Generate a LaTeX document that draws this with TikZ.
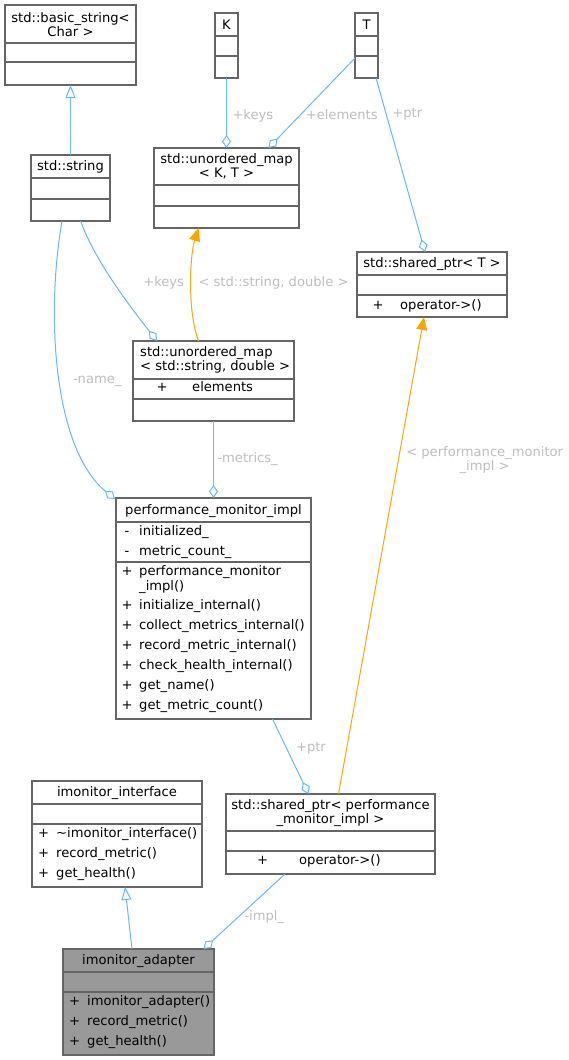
\documentclass[tikz,border=0pt]{standalone}
\usepackage{fontspec}
\setmainfont{DejaVu Sans}
\usepackage{tikz}
\usetikzlibrary{arrows.meta,calc,positioning}
\definecolor{boxgray}{RGB}{102,102,102}
\definecolor{mainfill}{RGB}{153,153,153}
\definecolor{edgeblue}{RGB}{99,184,255}
\definecolor{edgeorange}{RGB}{255,165,0}
\definecolor{labelgray}{RGB}{190,190,190}
\newcommand{\dgfont}{\fontsize{13.1}{14}\selectfont}
\tikzstyle{classbox}=[draw=boxgray, fill=white, line width=1.2pt, anchor=north west, inner sep=0pt, outer sep=0pt]
\tikzstyle{mainbox}=[classbox, fill=mainfill]
\tikzstyle{rowline}=[draw=boxgray, line width=1.2pt]
\tikzstyle{ctitle}=[font=\dgfont, inner sep=0pt, align=center]
\tikzstyle{member}=[font=\dgfont, inner sep=0pt, anchor=west, text height=11pt, text depth=2pt]
\tikzstyle{vis}=[member, anchor=center]
\tikzstyle{elabel}=[font=\dgfont, text=labelgray, inner sep=0pt, anchor=west, align=center]
\tikzstyle{aggr}=[draw=edgeblue, line width=1pt, -{Diamond[open, length=13pt, width=9pt]}]
\tikzstyle{inherit}=[draw=edgeblue, line width=1pt, -{Triangle[open, length=13pt, width=10pt]}]
\tikzstyle{tmpl}=[draw=edgeorange, line width=1pt, -{Triangle[length=13pt, width=11pt]}]
\newcommand{\rowsep}[2]{\draw[rowline] ([yshift=-#2pt]#1.north west) -- ([yshift=-#2pt]#1.north east);}

\begin{document}
\begin{tikzpicture}[x=1pt,y=-1pt]
\useasboundingbox (0,0) rectangle (568,1060);

    % class boxes
    \node[classbox, minimum width=131, minimum height=80] (basic-string) at (5,5) {};
    \node[classbox, minimum width=23, minimum height=65] (tpl-K) at (215,13) {};
    \node[classbox, minimum width=23, minimum height=65] (tpl-T) at (355,13) {};
    \node[classbox, minimum width=145, minimum height=80] (map-KT) at (154,148) {};
    \node[classbox, minimum width=79, minimum height=66] (std-string) at (31,155) {};
    \node[classbox, minimum width=150, minimum height=65] (sptr-T) at (357,252) {};
    \node[classbox, minimum width=161, minimum height=80] (map-SD) at (133,341) {};
    \node[classbox, minimum width=195, minimum height=221] (perf-impl) at (116,498) {};
    \node[classbox, minimum width=170, minimum height=106] (mon-iface) at (32,781) {};
    \node[classbox, minimum width=209, minimum height=80] (sptr-perf) at (226,794) {};
    \node[mainbox, minimum width=151, minimum height=106] (mon-adapter) at (63,949) {};

    \rowsep{basic-string}{38} \rowsep{basic-string}{57}
    \rowsep{tpl-K}{23} \rowsep{tpl-K}{43}
    \rowsep{tpl-T}{23} \rowsep{tpl-T}{43}
    \rowsep{map-KT}{37} \rowsep{map-KT}{58}
    \rowsep{std-string}{23} \rowsep{std-string}{44}
    \rowsep{sptr-T}{23} \rowsep{sptr-T}{43}
    \rowsep{map-SD}{38} \rowsep{map-SD}{58}
    \rowsep{perf-impl}{24} \rowsep{perf-impl}{64}
    \rowsep{mon-iface}{23} \rowsep{mon-iface}{43}
    \rowsep{sptr-perf}{37} \rowsep{sptr-perf}{57}
    \rowsep{mon-adapter}{23} \rowsep{mon-adapter}{43}

    % titles
    \node[ctitle] (basic-string-title) at (70.5,24.5) {std::basic\_string<\\Char >};
    \node[ctitle] (tpl-K-title) at (226.5,25) {K};
    \node[ctitle] (tpl-T-title) at (366.5,25) {T};
    \node[ctitle] (map-KT-title) at (226.5,166.5) {std::unordered\_map\\< K, T >};
    \node[ctitle] (std-string-title) at (70.5,167) {std::string};
    \node[ctitle] (sptr-T-title) at (432,264) {std::shared\_ptr< T >};
    \node[ctitle, align=left, anchor=west] (map-SD-title) at (140,360) {std::unordered\_map\\< std::string, double >};
    \node[ctitle] (perf-impl-title) at (213.5,511) {performance\_monitor\_impl};
    \node[ctitle] (mon-iface-title) at (117,793) {imonitor\_interface};
    \node[ctitle] (sptr-perf-title) at (330.5,813) {std::shared\_ptr< performance\\\_monitor\_impl >};
    \node[ctitle] (mon-adapter-title) at (138.5,961) {imonitor\_adapter};

    % members
    \node[vis] (sptr-T-v1) at (378,305) {+};
    \node[member] (sptr-T-m1) at (400,305) {operator->()};
    \node[vis] (map-SD-v1) at (162,387) {+};
    \node[member] (map-SD-m1) at (192,387) {elements};
    \node[vis] (sptr-perf-v1) at (262.5,860) {+};
    \node[member] (sptr-perf-m1) at (299,860) {operator->()};

    \foreach \y/\txt [count=\i] in {531/initialized\_, 551/metric\_count\_} {
        \node[vis] (perf-impl-av\i) at (127,\y) {-};
        \node[member] (perf-impl-a\i) at (139,\y) {\txt};
    }
    \node[vis] (perf-impl-ctor-v) at (127,571) {+};
    \node[member] (perf-impl-ctor) at (139,571) {performance\_monitor};
    \node[member] (perf-impl-ctor-b) at (139,586) {\_impl()};
    \foreach \y/\txt [count=\i] in {605/initialize\_internal(), 625/collect\_metrics\_internal(),
        645/record\_metric\_internal(), 665/check\_health\_internal(), 685/get\_name(), 705/get\_metric\_count()} {
        \node[vis] (perf-impl-mv\i) at (127,\y) {+};
        \node[member] (perf-impl-m\i) at (139,\y) {\txt};
    }
    \foreach \y/\txt [count=\i] in {833/\textasciitilde imonitor\_interface(), 853/record\_metric(), 873/get\_health()} {
        \node[vis] (mon-iface-v\i) at (43.5,\y) {+};
        \node[member] (mon-iface-m\i) at (56,\y) {\txt};
    }
    \foreach \y/\txt [count=\i] in {1001/imonitor\_adapter(), 1021/record\_metric(), 1041/get\_health()} {
        \node[vis] (mon-adapter-v\i) at (74.5,\y) {+};
        \node[member] (mon-adapter-m\i) at (87,\y) {\txt};
    }

    % relations
    \draw[inherit] (std-string.north) -- (basic-string.south);
    \draw[aggr] (tpl-K.south) -- (map-KT.north)
        node[elabel, pos=0.54, xshift=5.5pt] (lbl-keys-K) {+keys};
    \draw[aggr] ([yshift=-45pt]tpl-T.north west) -- ([xshift=42pt]map-KT.north)
        node[elabel, pos=0.63, xshift=4.8pt] (lbl-elements) {+elements};
    \draw[aggr] ([xshift=-2pt]tpl-T.south east) -- ([xshift=-7pt]sptr-T.north)
        node[elabel, pos=0.21, xshift=5.6pt] (lbl-ptr-T) {+ptr};
    \draw[aggr] ([xshift=10pt]std-string.south) .. controls (95,260) and (125,300) .. ([xshift=-56.5pt]map-SD.north)
        node[elabel, pos=0.52, xshift=29pt] (lbl-keys-SD) {+keys};
    \draw[aggr] ([xshift=-8.5pt]std-string.south) .. controls (45,320) and (55,450) .. ([xshift=-1pt,yshift=-1pt]perf-impl.north west)
        node[elabel, pos=0.51, xshift=12.4pt] (lbl-name) {-name\_};
    \draw[tmpl] ([xshift=-15pt]map-SD.north) .. controls (187,310) and (190,255) .. ([xshift=-28pt]map-KT.south)
        node[elabel, pos=0.5, xshift=7pt] (lbl-tmpl-SD) {< std::string, double >};
    \draw[aggr] (map-SD.south) -- (perf-impl.north)
        node[elabel, pos=0.49, xshift=3.5pt] (lbl-metrics) {-metrics\_};
    \draw[aggr] ([xshift=59pt]perf-impl.south) -- ([xshift=-22pt]sptr-perf.north)
        node[elabel, pos=0.39, xshift=9pt] (lbl-ptr-perf) {+ptr};
    \draw[tmpl] ([xshift=8pt]sptr-perf.north) -- ([xshift=-8pt]sptr-T.south)
        node[elabel, pos=0.70, xshift=7.4pt] (lbl-tmpl-perf) {< performance\_monitor\\\_impl >};
    \draw[inherit] ([xshift=-6.5pt]mon-adapter.north) -- ([xshift=8pt]mon-iface.south);
    \draw[aggr] ([xshift=-45.5pt]sptr-perf.south) -- ([xshift=65pt]mon-adapter.north)
        node[elabel, pos=0.573, xshift=5.7pt] (lbl-impl) {-impl\_};

\end{tikzpicture}
\end{document}
